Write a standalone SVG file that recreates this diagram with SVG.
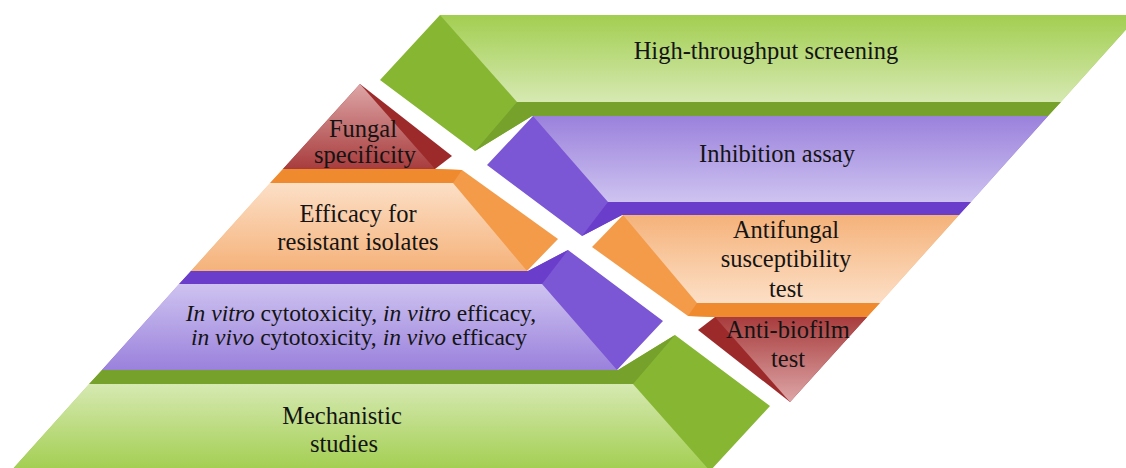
<svg xmlns="http://www.w3.org/2000/svg" width="1126" height="468" viewBox="0 0 1126 468">
<style>
.gs{fill:#87b633}.gk{fill:#76a12a}.gf{fill:url(#gGreen)}
.ps{fill:#7b56d5}.pk{fill:#6a3dcb}.pf{fill:url(#gPurple)}
.os{fill:#f39b49}.ok{fill:#ef8a2e}.of{fill:url(#gOrange)}
.rs{fill:#9c2a2b}.rf{fill:url(#gRed)}
.lbl{font-family:'Liberation Serif','Times New Roman','DejaVu Serif',serif;font-size:24.5px;fill:#141414;text-anchor:middle}
.sm{font-size:23.5px}
.it{font-style:italic}
</style>
<defs>
<linearGradient id="gGreen" x1="0" y1="0" x2="0" y2="1"><stop offset="0" stop-color="#a2ce50"/><stop offset="1" stop-color="#d6e9b2"/></linearGradient>
<linearGradient id="gPurple" x1="0" y1="0" x2="0" y2="1"><stop offset="0" stop-color="#9a81dc"/><stop offset="1" stop-color="#cec3f0"/></linearGradient>
<linearGradient id="gOrange" x1="0" y1="0" x2="0" y2="1"><stop offset="0" stop-color="#f5b27a"/><stop offset="1" stop-color="#fcdfc6"/></linearGradient>
<linearGradient id="gRed" x1="0" y1="0" x2="0" y2="1"><stop offset="0" stop-color="#a83c3d"/><stop offset="1" stop-color="#dea6a7"/></linearGradient>
<g id="shGreen">
<polygon class="gs" points="440,15 1139,15 1048,116 532,116 475,151 380,80"/>
<polygon class="gk" points="517,102 1061,102 1048,116 532,116 475,151"/>
<polygon class="gf" points="440,15 1139,15 1061,102 517,102"/>
</g>
<g id="shPurple">
<polygon class="ps" points="533,116 1048,116 959,215 622,215 582,236 487,165"/>
<polygon class="pk" points="608,202 971,202 959,215 622,215 582,236"/>
<polygon class="pf" points="533,116 1048,116 971,202 608,202"/>
</g>
<g id="shOrange">
<polygon class="os" points="623,215 959,215 867,317 714,317 688,316 592,247"/>
<polygon class="ok" points="697,303 880,303 867,317 714,317 688,316"/>
<polygon class="of" points="623,215 959,215 880,303 697,303"/>
</g>
<g id="shRed">
<polygon class="rs" points="715,317 867,317 790,402 698,330"/>
<polygon class="rf" points="715,317 867,317 790,402"/>
</g>
</defs>
<rect width="1126" height="468" fill="#ffffff"/>

<g id="high-throughput">
<use href="#shGreen"/>
<text class="lbl" x="766" y="59" font-family="Liberation Serif, serif">High-throughput screening</text>
</g>
<g id="inhibition">
<use href="#shPurple"/>
<text class="lbl" x="777" y="162" font-family="Liberation Serif, serif">Inhibition assay</text>
</g>
<g id="antifungal">
<use href="#shOrange"/>
<text class="lbl" x="786" y="238" font-family="Liberation Serif, serif">Antifungal</text>
<text class="lbl" x="786" y="267" font-family="Liberation Serif, serif">susceptibility</text>
<text class="lbl" x="786" y="297" font-family="Liberation Serif, serif">test</text>
</g>
<g id="antibiofilm">
<use href="#shRed"/>
<text class="lbl" x="788" y="338" font-family="Liberation Serif, serif">Anti-biofilm</text>
<text class="lbl" x="788" y="367" font-family="Liberation Serif, serif">test</text>
</g>

<g id="fungal">
<use href="#shRed" transform="rotate(180 575 243)"/>
<text class="lbl" x="363" y="137" font-family="Liberation Serif, serif">Fungal</text>
<text class="lbl" x="365" y="163" font-family="Liberation Serif, serif">specificity</text>
</g>
<g id="efficacy">
<use href="#shOrange" transform="rotate(180 575 243)"/>
<text class="lbl" x="358" y="222" font-family="Liberation Serif, serif">Efficacy for</text>
<text class="lbl" x="358" y="250" font-family="Liberation Serif, serif">resistant isolates</text>
</g>
<g id="invitro">
<use href="#shPurple" transform="rotate(180 575 243)"/>
<text class="lbl sm" x="361" y="321" font-family="Liberation Serif, serif"><tspan class="it">In vitro</tspan> cytotoxicity, <tspan class="it">in vitro</tspan> efficacy,</text>
<text class="lbl sm" x="359" y="345" font-family="Liberation Serif, serif"><tspan class="it">in vivo</tspan> cytotoxicity, <tspan class="it">in vivo</tspan> efficacy</text>
</g>
<g id="mechanistic">
<use href="#shGreen" transform="rotate(180 575 243)"/>
<text class="lbl" x="342" y="424" font-family="Liberation Serif, serif">Mechanistic</text>
<text class="lbl" x="344" y="452" font-family="Liberation Serif, serif">studies</text>
</g>
<g id="connectors"/>
</svg>
